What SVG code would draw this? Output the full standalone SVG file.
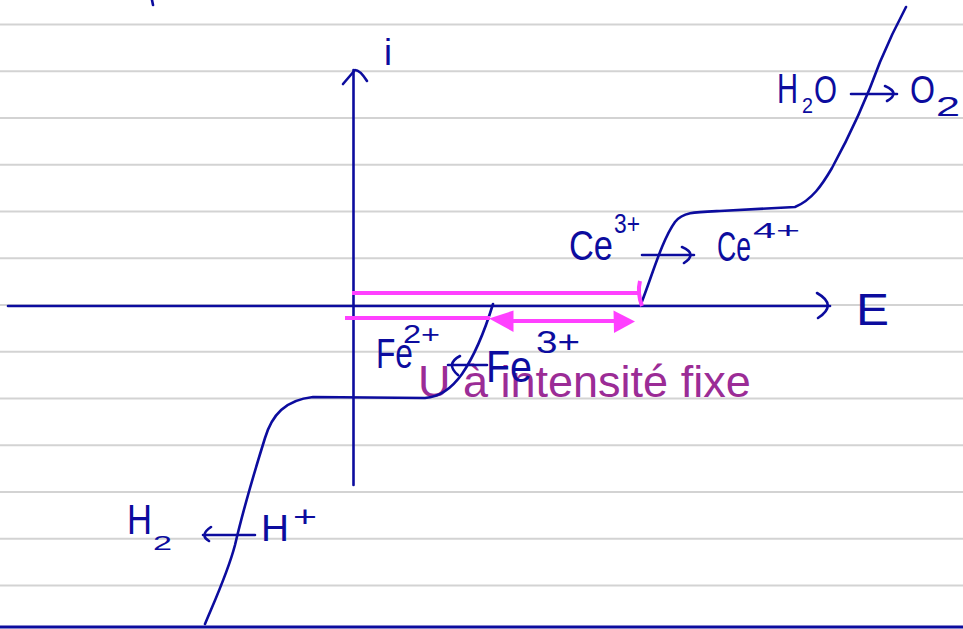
<svg xmlns="http://www.w3.org/2000/svg" width="963" height="629" viewBox="0 0 963 629">
  <style>
    .rule { stroke: #d3d3d3; stroke-width: 2; }
    .ink { fill: none; stroke: #0c0c9e; stroke-width: 2.6; stroke-linecap: round; stroke-linejoin: round; }
    .pink { fill: none; stroke: #ff40ff; stroke-width: 4; stroke-linecap: butt; }
    .hw { fill: #0c0c9e; font-family: "Liberation Sans", "DejaVu Sans", sans-serif; }
    .note { fill: #9b2c96; font-family: "Liberation Sans", Arial, sans-serif; font-size: 45px; }
  </style>
  <rect width="963" height="629" fill="#ffffff"/>
  <g id="ruled-lines">
    <line class="rule" x1="0" y1="24.5" x2="963" y2="24.5"/>
    <line class="rule" x1="0" y1="71.25" x2="963" y2="71.25"/>
    <line class="rule" x1="0" y1="118" x2="963" y2="118"/>
    <line class="rule" x1="0" y1="164.75" x2="963" y2="164.75"/>
    <line class="rule" x1="0" y1="211.5" x2="963" y2="211.5"/>
    <line class="rule" x1="0" y1="258.25" x2="963" y2="258.25"/>
    <line class="rule" x1="0" y1="305" x2="963" y2="305"/>
    <line class="rule" x1="0" y1="351.75" x2="963" y2="351.75"/>
    <line class="rule" x1="0" y1="398.5" x2="963" y2="398.5"/>
    <line class="rule" x1="0" y1="445.25" x2="963" y2="445.25"/>
    <line class="rule" x1="0" y1="492" x2="963" y2="492"/>
    <line class="rule" x1="0" y1="538.75" x2="963" y2="538.75"/>
    <line class="rule" x1="0" y1="585.5" x2="963" y2="585.5"/>
    <line x1="0" y1="627" x2="963" y2="627" stroke="#0c0c9e" stroke-width="3"/>
  </g>
  <text class="note" x="418" y="397">U à intensité fixe</text>
  <g id="connectors">
    <g id="axes">
      <path class="ink" d="M 8 306 L 830 306"/>
      <path class="ink" d="M 817 293 Q 838 305 818 318"/>
      <path class="ink" d="M 353.5 485 L 353.5 70"/>
      <path class="ink" d="M 343 84 L 355 70 Q 360 70 367 81"/>
      <path class="ink" d="M 152 0 L 153 5"/>
    </g>
    <g id="curves">
      <path class="ink" d="M 205 624 C 215 600 228 572 235 545 C 242 515 255 470 265 438 C 272 415 285 400 313 397 L 425 398 C 440 397 452 388 462 374 C 475 355 485 330 493 304"/>
      <path class="ink" d="M 641 304 C 652 276 662 240 675 222 C 683 212 695 212 720 211 L 795 207 C 812 200 822 185 832 168 C 850 135 868 95 880 62 C 890 38 898 22 906 7"/>
    </g>
    <g id="reaction-arrows">
      <path class="ink" d="M 851 94 L 897 94 M 885 86 Q 901 93 887 101"/>
      <path class="ink" d="M 642 255 L 694 255 M 682 247 Q 698 254 684 263"/>
      <path class="ink" d="M 487 365 L 448 365 M 460 356 Q 445 364 458 375"/>
      <path class="ink" d="M 255 535 L 203 535 M 211 527 Q 199 535 209 541"/>
    </g>
    <g id="pink-marks">
      <path class="pink" d="M 352 293 L 640 293"/>
      <path class="pink" d="M 640 281 Q 637 293 642 306"/>
      <path class="pink" d="M 345 318 L 490 318"/>
      <path class="pink" d="M 505 321 L 620 321" stroke-width="5"/>
      <polygon points="489,318.5 513.5,310.5 513.5,332" fill="#ff40ff"/>
      <polygon points="635,321.5 613.5,310.5 614,333" fill="#ff40ff"/>
    </g>
  </g>
  <g id="label-i">
    <text class="hw" x="384" y="65" font-size="36">i</text>
  </g>
  <g id="label-E">
    <text class="hw" x="856" y="325" font-size="44" textLength="33" lengthAdjust="spacingAndGlyphs">E</text>
  </g>
  <g id="label-H2O-O2">
    <text class="hw" x="777" y="103" font-size="42" textLength="21" lengthAdjust="spacingAndGlyphs">H</text>
    <text class="hw" x="802" y="113" font-size="22" textLength="11" lengthAdjust="spacingAndGlyphs">2</text>
    <text class="hw" x="814" y="103" font-size="38" textLength="23" lengthAdjust="spacingAndGlyphs">O</text>
    <text class="hw" x="910" y="103" font-size="38" textLength="25" lengthAdjust="spacingAndGlyphs">O</text>
    <text class="hw" x="936" y="116" font-size="28" textLength="24" lengthAdjust="spacingAndGlyphs">2</text>
  </g>
  <g id="label-Ce3-Ce4">
    <text class="hw" x="569" y="260" font-size="42" textLength="44" lengthAdjust="spacingAndGlyphs">Ce</text>
    <text class="hw" x="614" y="233" font-size="28" textLength="26" lengthAdjust="spacingAndGlyphs">3+</text>
    <text class="hw" x="717" y="261" font-size="42" textLength="34" lengthAdjust="spacingAndGlyphs">Ce</text>
    <text class="hw" x="753" y="238" font-size="22" textLength="47" lengthAdjust="spacingAndGlyphs">4+</text>
  </g>
  <g id="label-Fe2-Fe3">
    <text class="hw" x="376" y="368" font-size="42" textLength="37" lengthAdjust="spacingAndGlyphs">Fe</text>
    <text class="hw" x="403" y="343" font-size="26" textLength="37" lengthAdjust="spacingAndGlyphs">2+</text>
    <text class="hw" x="486" y="382" font-size="44" textLength="46" lengthAdjust="spacingAndGlyphs">Fe</text>
    <text class="hw" x="536" y="353" font-size="32" textLength="44" lengthAdjust="spacingAndGlyphs">3+</text>
  </g>
  <g id="label-H2-H">
    <text class="hw" x="127" y="534" font-size="42" textLength="25" lengthAdjust="spacingAndGlyphs">H</text>
    <text class="hw" x="153" y="550" font-size="20" textLength="19" lengthAdjust="spacingAndGlyphs">2</text>
    <text class="hw" x="261" y="541" font-size="36" textLength="28" lengthAdjust="spacingAndGlyphs">H</text>
    <text class="hw" x="293" y="527" font-size="30" textLength="24" lengthAdjust="spacingAndGlyphs">+</text>
  </g>
</svg>
